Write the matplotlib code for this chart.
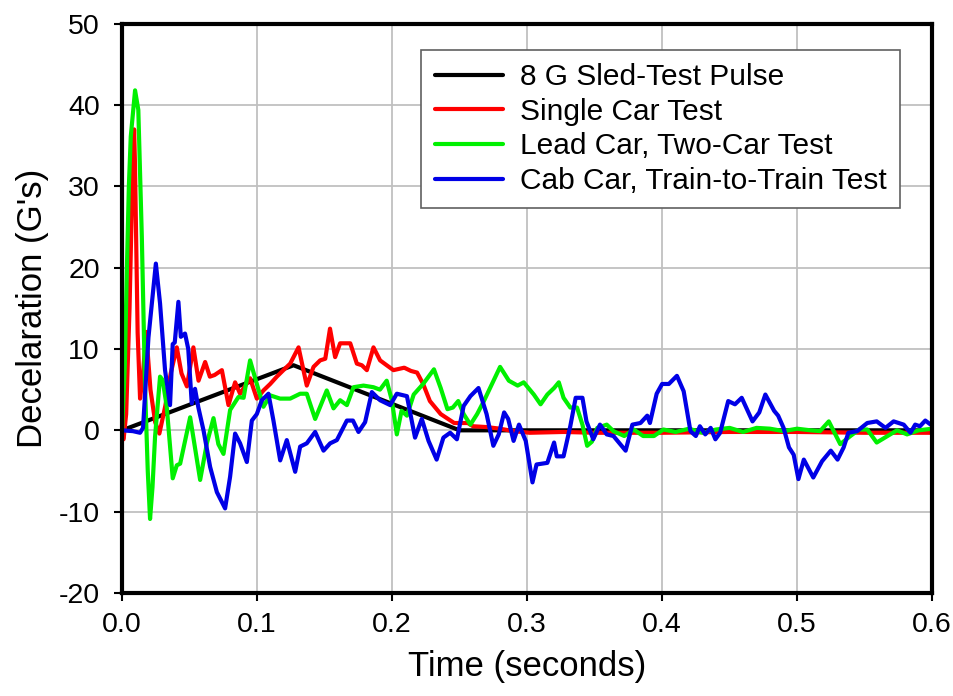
import numpy as np
import matplotlib
matplotlib.use("Agg")
import matplotlib.pyplot as plt

plt.rcParams['font.family'] = ['Liberation Sans', 'DejaVu Sans']
plt.rcParams['axes.unicode_minus'] = False

# 8 G sled-test pulse (triangle)
sled_t = [0.0, 0.127, 0.25, 0.6]
sled_g = [0.0, 8.0, 0.0, 0.0]

# single car test
single_t = [0, 0.0011, 0.003, 0.0055, 0.0075, 0.0089, 0.0095, 0.0115, 0.0133, 0.0155, 0.0178,
            0.021, 0.0245, 0.0276, 0.032, 0.036, 0.0405, 0.044, 0.048, 0.0528, 0.0566, 0.0615,
            0.065, 0.0685, 0.0739, 0.0788, 0.0837, 0.0874, 0.0948, 0.0998, 0.1047, 0.1097,
            0.1146, 0.1195, 0.1245, 0.1307, 0.1368, 0.1418, 0.1467, 0.1505, 0.154, 0.1578,
            0.1615, 0.169, 0.1739, 0.1776, 0.1813, 0.1862, 0.1911, 0.196, 0.201, 0.209, 0.214,
            0.2185, 0.223, 0.228, 0.236, 0.246, 0.256, 0.26, 0.27, 0.28, 0.29, 0.302, 0.327,
            0.35, 0.4, 0.45, 0.5, 0.55, 0.6]
single_g = [-0.8, -1.1, 2, 15, 30, 37, 33, 12, 3.9, 7, 12.1,
            5, 1, -0.4, 3, 7, 10.2, 7, 5.4, 10.2, 6.1, 8.4,
            6.6, 6.8, 7.4, 3.1, 5.9, 4.5, 6.4, 3.9, 4.9, 5.7,
            6.6, 7.4, 8.2, 10.2, 5.5, 7.8, 8.6, 8.8, 12.5, 9,
            10.7, 10.7, 8.2, 8, 7.4, 10.2, 8.6, 8, 7.4, 7.7, 7.3,
            7.1, 5.7, 3.6, 2.0, 0.9, 0.9, 0.5, 0.4, 0.2, -0.1, -0.3, -0.2,
            -0.3, -0.3, -0.2, -0.2, -0.3, -0.3]

# lead car, two-car test
lead_t = [0, 0.002, 0.0035, 0.005, 0.0064, 0.0096, 0.012, 0.0146, 0.017, 0.019, 0.0207,
          0.0225, 0.0244, 0.0281, 0.030, 0.033, 0.0375, 0.0405, 0.043, 0.0504, 0.0578, 0.0628,
          0.0677, 0.0713, 0.0751, 0.08, 0.0862, 0.09, 0.0948, 0.0998, 0.1047, 0.1097, 0.117,
          0.1245, 0.1319, 0.1368, 0.143, 0.1467, 0.1516, 0.1566, 0.1615, 0.1665, 0.1714,
          0.1788, 0.1862, 0.191, 0.196, 0.1998, 0.2035, 0.207, 0.211, 0.216, 0.223, 0.231,
          0.236, 0.241, 0.245, 0.249, 0.253, 0.258, 0.263, 0.268, 0.274, 0.28, 0.2865, 0.293,
          0.2975, 0.305, 0.31, 0.315, 0.32, 0.3235, 0.327, 0.332, 0.337, 0.341, 0.3445, 0.348,
          0.352, 0.359, 0.364, 0.372, 0.379, 0.386, 0.394, 0.401, 0.41, 0.42, 0.43, 0.44,
          0.45, 0.46, 0.47, 0.48, 0.49, 0.5, 0.51, 0.517, 0.5235, 0.532, 0.5395, 0.546, 0.552,
          0.559, 0.567, 0.574, 0.5815, 0.59, 0.6]
lead_g = [0, 8, 19.6, 30, 36.1, 41.8, 39.4, 23.8, 5.2, -5, -10.9,
          -7, -0.8, 6.6, 6.2, 3.0, -5.9, -4.3, -4.1, 1.6, -6.1, -1.6,
          1.5, -1.7, -2.9, 2.5, 4.1, 4.0, 8.6, 5.7, 2.9, 4.3, 3.9,
          3.9, 4.5, 4.5, 1.4, 2.9, 4.9, 2.7, 3.7, 3.1, 5.3,
          5.5, 5.3, 5.0, 6.1, 3.7, -0.5, 2.4, 1.8, 4.4, 5.7, 7.5,
          5.2, 2.6, 2.8, 3.6, 2.0, 0.7, 2.0, 3.6, 5.7, 7.8, 6.1, 5.5,
          5.9, 4.4, 3.2, 4.4, 5.2, 5.9, 4.0, 2.8, 2.8, 0.7, -1.9, -1.4,
          0.3, 0.7, -0.1, -0.7, 0.1, -0.7, -0.7, 0.1, -0.2, 0.2, -0.3, 0.1,
          0.3, -0.2, 0.3, 0.2, -0.1, 0.2, 0.0, -0.1, 1.1, -1.7, -0.7, 0.1, 0.1,
          -1.5, -0.7, 0.0, -0.5, 0.0, 0.2]

# cab car, train-to-train test
cab_t = [0, 0.008, 0.0133, 0.0155, 0.0195, 0.025, 0.0281, 0.0318, 0.0355, 0.0375, 0.039,
         0.0417, 0.0435, 0.0466, 0.049, 0.0516, 0.054, 0.0565, 0.0603, 0.0652, 0.0702, 0.0763,
         0.08, 0.0837, 0.0874, 0.0924, 0.0961, 0.0998, 0.1035, 0.1084, 0.1121, 0.1171, 0.122,
         0.1282, 0.1319, 0.1368, 0.143, 0.1492, 0.1541, 0.1591, 0.1665, 0.171, 0.1751, 0.18,
         0.185, 0.1911, 0.1986, 0.2035, 0.211, 0.217, 0.222, 0.227, 0.233, 0.238, 0.243,
         0.248, 0.253, 0.258, 0.264, 0.27, 0.275, 0.279, 0.283, 0.286, 0.29, 0.294, 0.299,
         0.304, 0.307, 0.315, 0.32, 0.322, 0.327, 0.332, 0.336, 0.341, 0.344, 0.349, 0.354,
         0.359, 0.364, 0.373, 0.378, 0.384, 0.389, 0.391, 0.396, 0.4, 0.405, 0.411, 0.416,
         0.421, 0.425, 0.428, 0.432, 0.436, 0.4395, 0.443, 0.449, 0.454, 0.459, 0.467, 0.472,
         0.4765, 0.483, 0.486, 0.49, 0.494, 0.4975, 0.501, 0.505, 0.512, 0.5185, 0.525, 0.53,
         0.5345, 0.538, 0.5445, 0.552, 0.559, 0.5655, 0.5715, 0.579, 0.584, 0.5875, 0.591,
         0.595, 0.599]
cab_g = [0, -0.1, -0.3, 0.3, 11.4, 20.5, 15.6, 7.4, 3.1, 10.6, 10.8,
         15.8, 11.5, 11.9, 10.0, 3.3, 5.1, 2.8, 0.0, -4.5, -7.6, -9.6,
         -5.7, -0.4, -1.6, -3.9, 1.2, 2.0, 3.7, 4.5, 1.2, -3.7, -1.2,
         -5.1, -2.0, -1.6, -0.2, -2.5, -1.6, -1.2, 1.2, 1.2, -0.2, 1.0,
         4.7, 3.7, 3.1, 4.5, 4.2, -0.9, 1.4, -1.3, -3.6, -0.9, -0.3,
         -1.1, 3.0, 4.2, 5.2, 2.0, -1.9, -0.5, 2.2, 1.4, -1.3, 0.7, -1.3,
         -6.4, -4.2, -4.0, -1.5, -3.2, -3.2, 0.5, 4.0, 4.0, 1.1, -1.1, 0.7,
         -0.5, -0.7, -2.5, 0.7, 0.9, 1.8, 0.9, 4.5, 5.7, 5.7, 6.7, 4.8,
         -0.1, -0.7, 0.5, -0.5, 0.3, -1.1, -0.3, 3.6, 3.2, 4.0, 1.1, 2.2,
         4.4, 2.4, 1.8, 0.3, -2.1, -3.0, -6.0, -3.6, -5.8, -3.8, -2.5, -3.6,
         -2.1, -0.3, -0.1, 0.9, 1.1, 0.3, 1.1, 0.7, -0.3, 0.7, 0.5,
         1.2, 0.7]

x_ticks = [0.0, 0.1, 0.2, 0.3, 0.4, 0.5, 0.6]
y_ticks = [-20, -10, 0, 10, 20, 30, 40, 50]

fig = plt.figure(figsize=(9.54, 6.96), dpi=100)
ax = fig.add_axes([0.128, 0.148, 0.849, 0.818])

lw = 3.0
style = dict(lw=lw, solid_joinstyle='round', solid_capstyle='round')
ax.plot(sled_t, sled_g, color='black', label='8 G Sled-Test Pulse', **style)
ax.plot(single_t, single_g, color='#ff0000', label='Single Car Test', **style)
ax.plot(lead_t, lead_g, color='#00f000', label='Lead Car, Two-Car Test', **style)
ax.plot(cab_t, cab_g, color='#0000e6', label='Cab Car, Train-to-Train Test', **style)

ax.set_xlim(0, 0.6)
ax.set_ylim(-20, 50)
ax.set_xticks(x_ticks)
ax.set_xticklabels(['%.1f' % v for v in x_ticks])
ax.set_yticks(y_ticks)
ax.grid(True, color='#c0c0c0', lw=1.3)
ax.set_axisbelow(True)
for s in ax.spines.values():
    s.set_linewidth(3)
ax.tick_params(direction='out', length=6, width=1.5, labelsize=20.5)
ax.tick_params(axis='y', pad=10)
ax.tick_params(axis='x', pad=8)
ax.set_xlabel('Time (seconds)', fontsize=25, labelpad=8)
ax.set_ylabel("Decelaration (G's)", fontsize=25, labelpad=7)

leg = ax.legend(loc='upper right', bbox_to_anchor=(0.9605, 0.954), borderaxespad=0,
                fontsize=21.5, fancybox=False, edgecolor='#606060', framealpha=1,
                handlelength=2.3, handletextpad=0.55, labelspacing=0.22,
                borderpad=0.45)
leg.get_frame().set_linewidth(1.2)

fig.savefig('out.png', dpi=100)
